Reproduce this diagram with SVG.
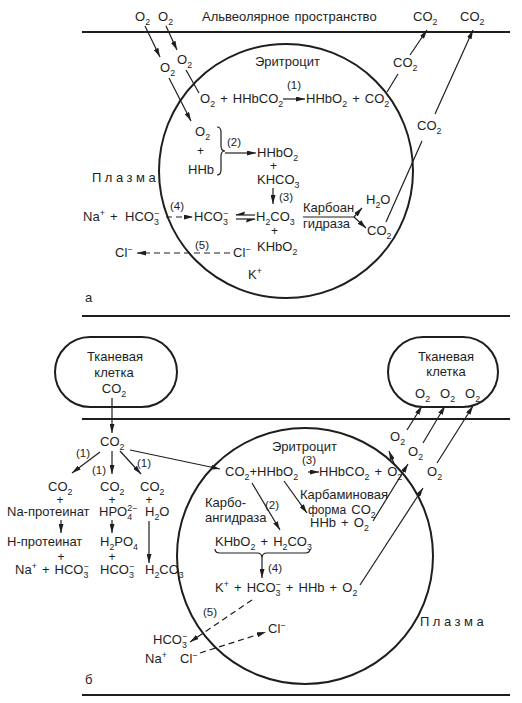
<svg xmlns="http://www.w3.org/2000/svg" width="522" height="703" viewBox="0 0 522 703">
<defs>
<style>
text{font-family:"Liberation Sans",Arial,sans-serif;font-size:13px;fill:#1e1e1e;word-spacing:1.5px}
.n{font-size:11.5px}
.sb{font-size:8.8px;baseline-shift:-3.5px}
.sp{font-size:8.8px;baseline-shift:5px}
.c{text-anchor:middle}
.ls{letter-spacing:3.5px}
.pl{font-size:12px}
.bd{fill:none;stroke:#1e1e1e;stroke-width:2}
.ln{fill:none;stroke:#1e1e1e;stroke-width:1.2}
.ar{marker-end:url(#ah)}
.ds{stroke-dasharray:6 4}
.hf{fill:#1e1e1e;stroke:none}
</style>
<marker id="ah" viewBox="0 0 9 5" refX="9" refY="2.5" markerWidth="9" markerHeight="5" markerUnits="userSpaceOnUse" orient="auto"><path d="M0,0 L9,2.5 L0,5 z" fill="#1e1e1e"/></marker>
</defs>
<rect width="522" height="703" fill="#fff"/>

<g id="boundaries">
<line class="bd" x1="82" y1="32" x2="510" y2="32"/>
<line class="bd" x1="82" y1="316" x2="510" y2="316"/>
<line class="bd" x1="82" y1="419" x2="510" y2="419"/>
<line class="bd" x1="82" y1="695" x2="510" y2="695"/>
</g>

<g id="erythrocyte-a"><circle class="bd" cx="286" cy="171" r="127"/></g>
<g id="erythrocyte-b"><circle class="bd" cx="305" cy="556" r="128"/></g>
<g id="tissue-cell-left"><rect class="bd" x="55" y="337" width="122" height="70" rx="35"/>
<text class="c" x="115" y="361">Тканевая</text><text class="c" x="114" y="377">клетка</text><text class="c" x="114" y="393">CO<tspan class="sb">2</tspan></text></g>
<g id="tissue-cell-right"><rect class="bd" x="388" y="337" width="110" height="70" rx="35"/>
<text class="c" x="446" y="361">Тканевая</text><text class="c" x="446" y="376">клетка</text>
<text x="415" y="398">O<tspan class="sb">2</tspan></text><text x="440" y="398">O<tspan class="sb">2</tspan></text><text x="465" y="398">O<tspan class="sb">2</tspan></text></g>

<g id="panel-a-labels">
<text x="135" y="21">O<tspan class="sb">2</tspan></text>
<text x="158" y="21">O<tspan class="sb">2</tspan></text>
<text x="202" y="21">Альвеолярное пространство</text>
<text x="413" y="21">CO<tspan class="sb">2</tspan></text>
<text x="460" y="21">CO<tspan class="sb">2</tspan></text>
<text x="160" y="72">O<tspan class="sb">2</tspan></text>
<text x="177" y="64">O<tspan class="sb">2</tspan></text>
<text x="255" y="66">Эритроцит</text>
<text class="n" x="287" y="89">(1)</text>
<text x="200" y="103">O<tspan class="sb">2</tspan> + HHbCO<tspan class="sb">2</tspan></text>
<text x="306" y="103">HHbO<tspan class="sb">2</tspan> + CO<tspan class="sb">2</tspan></text>
<text x="393" y="67">CO<tspan class="sb">2</tspan></text>
<text x="417" y="130">CO<tspan class="sb">2</tspan></text>
<text x="195" y="136">O<tspan class="sb">2</tspan></text>
<text class="pl" x="197" y="155">+</text>
<text x="188" y="174">HHb</text>
<text class="n" x="227" y="146">(2)</text>
<text x="257" y="157">HHbO<tspan class="sb">2</tspan></text>
<text class="pl" x="270" y="170">+</text>
<text x="257" y="184">KHCO<tspan class="sb">3</tspan></text>
<text class="n" x="279" y="201">(3)</text>
<text class="ls" x="92" y="182">Плазма</text>
<text x="83" y="221">Na<tspan class="sp">+</tspan> +</text>
<text x="125" y="221">HCO<tspan class="sb">3</tspan><tspan class="sp" dx="-4.9">−</tspan></text>
<text class="n" x="170" y="210">(4)</text>
<text x="194" y="221">HCO<tspan class="sb">3</tspan><tspan class="sp" dx="-4.9">−</tspan></text>
<text x="256" y="221">H<tspan class="sb">2</tspan>CO<tspan class="sb">3</tspan></text>
<text x="303" y="212">Карбоан</text>
<text x="303" y="228">гидраза</text>
<text x="366" y="204">H<tspan class="sb">2</tspan>O</text>
<text x="367" y="235">CO<tspan class="sb">2</tspan></text>
<text class="pl" x="271" y="235">+</text>
<text x="257" y="251">KHbO<tspan class="sb">2</tspan></text>
<text x="115" y="257">Cl<tspan class="sp">−</tspan></text>
<text class="n" x="195" y="249">(5)</text>
<text x="233" y="257">Cl<tspan class="sp">−</tspan></text>
<text x="248" y="279">K<tspan class="sp">+</tspan></text>
<text x="85" y="302">а</text>
</g>

<g id="panel-b-labels">
<text x="100" y="446">CO<tspan class="sb">2</tspan></text>
<text class="n" x="76" y="457">(1)</text>
<text class="n" x="92" y="474">(1)</text>
<text class="n" x="137" y="467">(1)</text>
<text x="48" y="491">CO<tspan class="sb">2</tspan></text>
<text class="c pl" x="60" y="504">+</text>
<text x="7" y="516">Na-протеинат</text>
<text x="7" y="546">Н-протеинат</text>
<text class="c pl" x="61" y="561">+</text>
<text x="15" y="574">Na<tspan class="sp">+</tspan> + HCO<tspan class="sb">3</tspan><tspan class="sp" dx="-4.9">−</tspan></text>
<text x="100" y="491">CO<tspan class="sb">2</tspan></text>
<text class="c pl" x="112" y="504">+</text>
<text x="99" y="516">HPO<tspan class="sb">4</tspan><tspan class="sp" dx="-4.9">2−</tspan></text>
<text x="100" y="546">H<tspan class="sb">2</tspan>PO<tspan class="sb">4</tspan></text>
<text class="c pl" x="112" y="561">+</text>
<text x="100" y="574">HCO<tspan class="sb">3</tspan><tspan class="sp" dx="-4.9">−</tspan></text>
<text x="140" y="491">CO<tspan class="sb">2</tspan></text>
<text class="c pl" x="149" y="504">+</text>
<text x="145" y="516">H<tspan class="sb">2</tspan>O</text>
<text x="145" y="574">H<tspan class="sb">2</tspan>CO<tspan class="sb">3</tspan></text>
<text x="272" y="451">Эритроцит</text>
<text class="n" x="302" y="464">(3)</text>
<text x="225" y="476" style="word-spacing:0">CO<tspan class="sb">2</tspan>+HHbO<tspan class="sb">2</tspan></text>
<text x="319" y="476">HHbCO<tspan class="sb">2</tspan> + O<tspan class="sb">2</tspan></text>
<text x="390" y="441">O<tspan class="sb">2</tspan></text>
<text x="408" y="456">O<tspan class="sb">2</tspan></text>
<text x="427" y="476">O<tspan class="sb">2</tspan></text>
<text x="300" y="499">Карбаминовая</text>
<text x="308" y="514"><tspan style="font-size:12px">форма</tspan> CO<tspan class="sb">2</tspan></text>
<text x="310" y="527">HHb + O<tspan class="sb">2</tspan></text>
<text class="n" x="265" y="509">(2)</text>
<text x="205" y="507">Карбо-</text>
<text x="205" y="522">ангидраза</text>
<text x="215" y="546">KHbO<tspan class="sb">2</tspan> + H<tspan class="sb">2</tspan>CO<tspan class="sb">3</tspan></text>
<text class="n" x="268" y="572">(4)</text>
<text x="215" y="592">K<tspan class="sp">+</tspan> + HCO<tspan class="sb">3</tspan><tspan class="sp" dx="-4.9">−</tspan> + HHb + O<tspan class="sb">2</tspan></text>
<text class="n" x="203" y="616">(5)</text>
<text x="153" y="644">HCO<tspan class="sb">3</tspan><tspan class="sp" dx="-4.9">−</tspan></text>
<text x="145" y="663">Na<tspan class="sp">+</tspan></text>
<text x="180" y="663">Cl<tspan class="sp">−</tspan></text>
<text x="268" y="633">Cl<tspan class="sp">−</tspan></text>
<text class="ls" x="420" y="626">Плазма</text>
<text x="85" y="684">б</text>
</g>

<g id="connectors">
<line class="ln ar" x1="145" y1="26" x2="160" y2="57"/>
<line class="ln ar" x1="166" y1="26" x2="177" y2="50"/>
<line class="ln ar" x1="169" y1="78" x2="191" y2="121"/>
<line class="ln" x1="186" y1="70" x2="199" y2="93"/>
<line class="ln ar" x1="283" y1="99" x2="305" y2="99"/>
<line class="ln" x1="387" y1="92" x2="398" y2="74"/>
<line class="ln ar" x1="410" y1="55" x2="427" y2="30"/>
<line class="ln" x1="386" y1="222" x2="422" y2="141"/>
<line class="ln ar" x1="435" y1="114" x2="473" y2="30"/>
<path class="ln" d="M217,127 Q221,127 221,132 L221,146 Q221,151 225,151 Q221,151 221,156 L221,170 Q221,175 217,175"/>
<line class="ln ar" x1="225" y1="153" x2="256" y2="153"/>
<line class="ln ar" x1="273" y1="188" x2="273" y2="204"/>
<line class="ln ds ar" x1="166" y1="217" x2="193" y2="217"/>
<line class="ln" x1="236" y1="215" x2="255" y2="215"/>
<path class="hf" d="M235,215 L245,211.5 L244,215 z"/>
<line class="ln" x1="236" y1="219" x2="255" y2="219"/>
<path class="hf" d="M256,219 L246,222.5 L247,219 z"/>
<line class="ln" x1="303" y1="217" x2="354" y2="217"/>
<line class="ln ar" x1="354" y1="217" x2="362" y2="208"/>
<line class="ln ar" x1="354" y1="217" x2="366" y2="228"/>
<line class="ln ds ar" x1="230" y1="253" x2="137" y2="253"/>

<line class="ln ar" x1="112" y1="398" x2="112" y2="433"/>
<line class="ln ar" x1="100" y1="452" x2="72" y2="473"/>
<line class="ln ar" x1="112" y1="451" x2="112" y2="474"/>
<line class="ln ar" x1="120" y1="451" x2="141" y2="474"/>
<line class="ln ar" x1="130" y1="450" x2="220" y2="469"/>
<line class="ln ar" x1="61" y1="520" x2="61" y2="533"/>
<line class="ln ar" x1="112" y1="520" x2="112" y2="533"/>
<line class="ln ar" x1="149" y1="521" x2="149" y2="563"/>
<line class="ln ar" x1="308" y1="472" x2="319" y2="472"/>
<line class="ln ar" x1="252" y1="483" x2="280" y2="530"/>
<line class="ln ar" x1="284" y1="481" x2="307" y2="513"/>
<line class="ln ar" x1="395" y1="466" x2="389" y2="451"/>
<line class="ln ar" x1="407" y1="430" x2="422" y2="406"/>
<line class="ln ar" x1="373" y1="521" x2="408" y2="464"/>
<line class="ln ar" x1="423" y1="443" x2="445" y2="406"/>
<line class="ln ar" x1="360" y1="585" x2="423" y2="488"/>
<line class="ln ar" x1="437" y1="463" x2="473" y2="406"/>
<path class="ln" d="M215,549 Q215,553 220,553 L257,553 Q262,553 262,558 Q262,553 267,553 L305,553 Q310,553 310,549"/>
<line class="ln ar" x1="262" y1="558" x2="262" y2="578"/>
<line class="ln ds ar" x1="252" y1="600" x2="190" y2="642"/>
<line class="ln ds ar" x1="200" y1="653" x2="266" y2="632"/>
</g>
</svg>
